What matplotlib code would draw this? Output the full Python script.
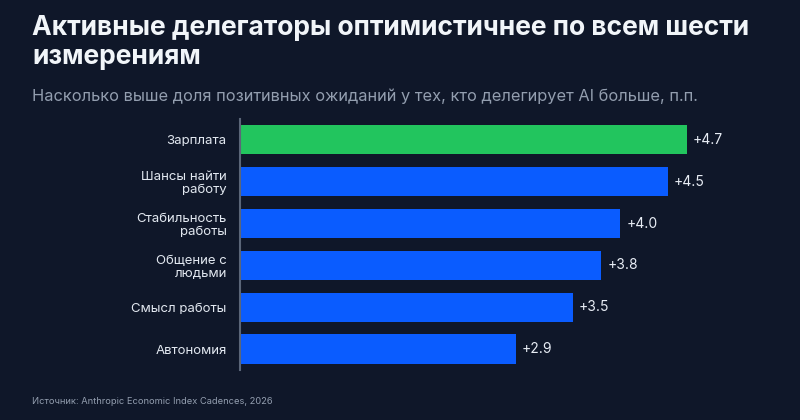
import matplotlib
matplotlib.use("Agg")
from matplotlib import pyplot as plt
import numpy as np

categories = ["Зарплата", "Шансы найти\nработу", "Стабильность\nработы",
              "Общение с\nлюдьми", "Смысл работы", "Автономия"]
values = [4.7, 4.5, 4.0, 3.8, 3.5, 2.9]
value_labels = ["+4.7", "+4.5", "+4.0", "+3.8", "+3.5", "+2.9"]
highlight = "Зарплата"

bg = "#0f1729"
green = "#22c55e"
blue = "#0a5cff"

plt.rcParams["font.family"] = ["Inter", "DejaVu Sans"]

fig = plt.figure(figsize=(8, 4.2), dpi=100, facecolor=bg)
ax = fig.add_axes([0.30, 0.119, 0.65, 0.598], facecolor=bg)

pos = np.arange(len(categories))
colors = [green if c == highlight else blue for c in categories]
ax.barh(pos, values, height=0.70, color=colors)
ax.set_ylim(len(categories) - 0.5, -0.5)
ax.set_xlim(0, 520 / 95)

for p, v, lab in zip(pos, values, value_labels):
    ax.text(v + 0.065, p, lab, va="center", ha="left", color="#e8edf5", fontsize=10)

ax.set_yticks(pos)
ax.set_yticklabels(categories, color="#e2e8f0", fontsize=9.5, linespacing=1.1)
ax.tick_params(axis="y", length=0, pad=9.5)
ax.set_xticks([])
for s in ["top", "right", "bottom"]:
    ax.spines[s].set_visible(False)
ax.spines["left"].set_color("#5b6678")
ax.spines["left"].set_linewidth(1.5)

fig.text(0.04, 1 - 15 / 420, "Активные делегаторы оптимистичнее по всем шести\nизмерениям",
         ha="left", va="top", color="#f1f5f9", fontsize=19, fontweight="bold", linespacing=1.15)
fig.text(0.04, 1 - 96 / 420, "Насколько выше доля позитивных ожиданий у тех, кто делегирует AI больше, п.п.",
         ha="left", va="center", color="#939eaf", fontsize=11.8)
fig.text(0.04, 1 - 401 / 420, "Источник: Anthropic Economic Index Cadences, 2026",
         ha="left", va="center", color="#939eaf", fontsize=6.7)

fig.savefig("out.png", dpi=100, facecolor=bg)
